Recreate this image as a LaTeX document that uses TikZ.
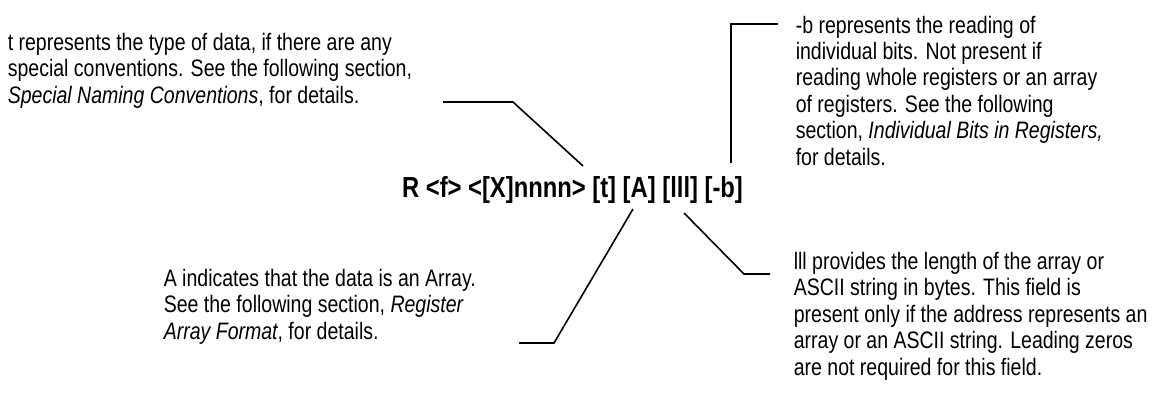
\documentclass[tikz,border=0pt]{standalone}
\usepackage{fontspec}
\setmainfont[FakeStretch=0.82]{Liberation Sans}
\begin{document}
\begin{tikzpicture}[x=1pt,y=-1pt,line width=1.6pt,
    note/.style={anchor=base west,align=left,inner sep=0pt,
      font=\fontsize{23.8}{26.4}\selectfont}]
  \useasboundingbox (0,0) rectangle (1156,396);
  \node[anchor=base,inner sep=0pt,font=\fontsize{29}{32}\selectfont\bfseries]
    (fmt) at (572.5,197) {R <f> <[X]nnnn> [t] [A] [lll] [-b]};
  % notes, anchored at the baseline of their last line
  \node[note] (tnote) at (7,103) {t represents the type of data, if there are any\\
    special conventions. See the following section,\\
    \textit{Special Naming Conventions}, for details.};
  \node[note] (bnote) at (795,165) {-b represents the reading of\\
    individual bits. Not present if\\
    reading whole registers or an array\\
    of registers. See the following\\
    section, \textit{Individual Bits in Registers,}\\
    for details.};
  \node[note] (anote) at (163,339) {A indicates that the data is an Array.\\
    See the following section, \textit{Register}\\
    \textit{Array Format}, for details.};
  \node[note] (lnote) at (793,375) {lll provides the length of the array or\\
    ASCII string in bytes. This field is\\
    present only if the address represents an\\
    array or an ASCII string. Leading zeros\\
    are not required for this field.};
  % leader lines
  \coordinate (T1) at (443,102); \coordinate (T2) at (513,102);
  \coordinate (T3) at (583,166);
  \coordinate (B1) at (778,24); \coordinate (B2) at (731,24);
  \coordinate (B3) at (731,163);
  \coordinate (A1) at (519,343); \coordinate (A2) at (554,343);
  \coordinate (A3) at (633,209);
  \coordinate (L1) at (684,213); \coordinate (L2) at (744,274);
  \coordinate (L3) at (770,274);
  \draw (T1) -- (T2) -- (T3);
  \draw (B1) -- (B2) -- (B3);
  \draw (A1) -- (A2) -- (A3);
  \draw (L1) -- (L2) -- (L3);
\end{tikzpicture}
\end{document}
